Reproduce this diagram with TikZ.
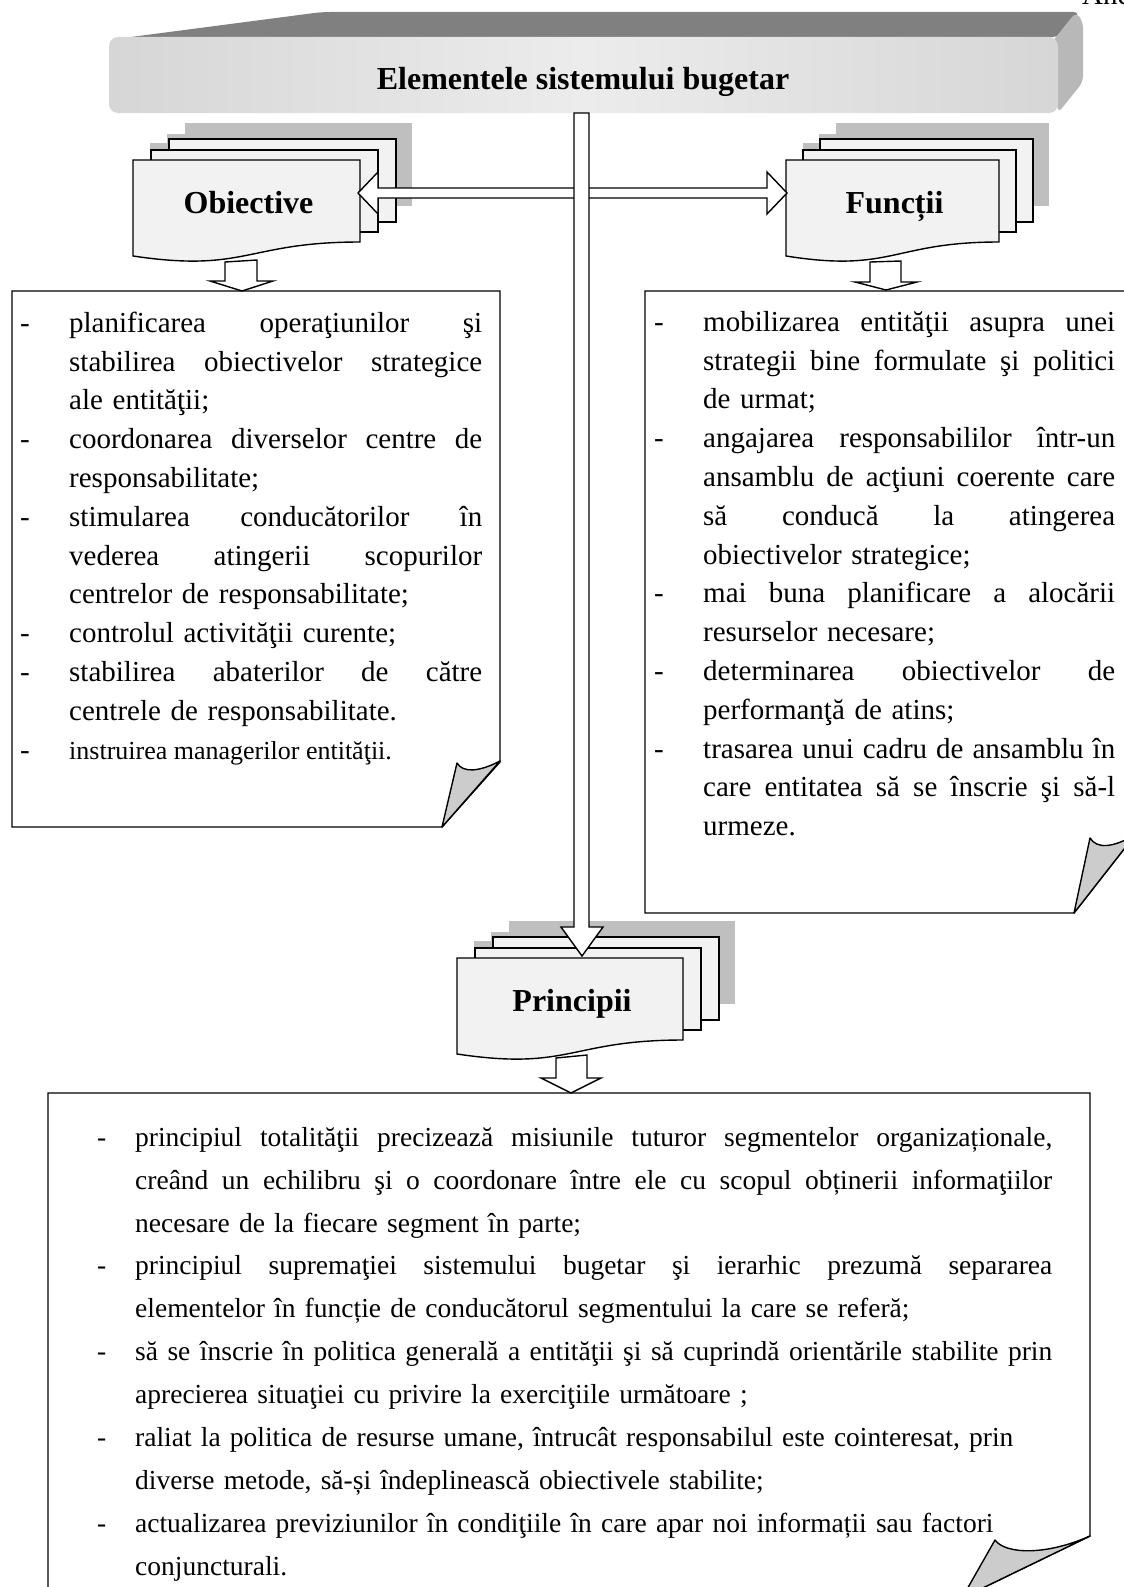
\documentclass[tikz,border=0pt]{standalone}
\usepackage{fontspec}
\setmainfont{Liberation Serif}
\setlength{\parindent}{0pt}

\definecolor{pagegray}{HTML}{F2F2F2}
\definecolor{shadowgray}{HTML}{BFBFBF}
\definecolor{foldgray}{HTML}{CCCCCC}
\definecolor{bannertop}{HTML}{808080}
\definecolor{bannerside}{HTML}{B8B8B8}
\definecolor{bannerface}{HTML}{D6D6D6}
\definecolor{bannerlight}{HTML}{ECECEC}

% list helpers: dash column, indent column, justified line (spaces may stretch)
\newcommand\itemdash[1]{\makebox[#1][l]{-}}
\newcommand\itemskip[1]{\hspace*{#1}}
\newcommand\jline[2]{\makebox[#1][s]{\spaceskip=0pt\xspaceskip=0pt #2}}

% stack of three pages with a shadow; #1 name, #2 x, #3 y, #4 width, #5 page step, #6 label
\newcommand\docstack[6]{%
  \fill[shadowgray] (#2+2*#5+16,#3-37) rectangle ++(#4,83);
  \fill[shadowgray] (#2+#5+16,#3-26) rectangle ++(#4,82);
  \fill[shadowgray] (#2+17,#3-17) rectangle ++(#4,82);
  \draw[pagestyle] (#2+2*#5,#3-21) rectangle ++(#4,83);
  \draw[pagestyle] (#2+#5,#3-10) rectangle ++(#4,82);
  \draw[pagestyle] (#2,#3) -- (#2+#4,#3) -- (#2+#4,#3+82)
     .. controls (#2+0.5*#4,#3+82) and (#2+0.5*#4,#3+113) .. (#2,#3+96) -- cycle;
  \node[heading] (#1) at (#2+0.5*#4+2,#3+53) {#6};
}

\tikzset{
  outline/.style={draw=black, line width=1.4pt, line join=miter},
  pagestyle/.style={outline, fill=pagegray},
  blockarrow/.style={outline, fill=white},
  notebox/.style={outline, fill=white},
  foldstyle/.style={outline, fill=foldgray, line join=round},
  heading/.style={font=\bfseries\fontsize{32}{38}\selectfont, inner sep=0pt, anchor=base},
  listtext/.style={font=\fontsize{29}{38.8}\selectfont, inner sep=0pt, anchor=north west, align=left},
  widelist/.style={font=\fontsize{27.5}{42.9}\selectfont, inner sep=0pt, anchor=north west, align=left}
}

\begin{document}
\begin{tikzpicture}[x=1pt,y=-1pt]
\useasboundingbox (0,0) rectangle (1124,1587);
\clip (0,0) rectangle (1124,1587);
\fill[white] (0,0) rectangle (1124,1587);

% heading of the page, cut by the page edge
\node[anchor=base west, inner sep=0pt, font=\fontsize{29}{30}\selectfont] (annex) at (1082,5) {Anexa};

% ---- three-dimensional title banner ----
\fill[bannertop, rounded corners=8pt] (108,40) -- (322,12) -- (1081,12) -- (1060,37) -- cycle;
\fill[bannerside, rounded corners=6pt] (1052,42) -- (1076,12) -- (1083,22) -- (1083,82) -- (1058,113) -- cycle;
\shade[left color=bannerface, right color=bannerface, middle color=bannerlight, rounded corners=9pt]
  (109,37) rectangle (1058,113);
\node[heading] (title) at (583,89) {Elementele sistemului bugetar};

% ---- note boxes with a turned-up corner ----
\draw[notebox] (12,291) -- (500,291) -- (500,762) -- (442,827) -- (12,827) -- cycle;
\draw[foldstyle] (442,827) -- (457,763) .. controls (463,773) and (479,772) .. (500,761) -- cycle;

\draw[notebox] (645,291) -- (1135,291) -- (1135,835) -- (1074,913) -- (645,913) -- cycle;
\draw[foldstyle] (1074,913) -- (1090,838) .. controls (1097,849) and (1112,848) .. (1135,835) -- cycle;

\draw[notebox] (48,1093) -- (1090,1093) -- (1090,1536) -- (962,1598) -- (48,1598) -- cycle;
\draw[foldstyle] (962,1598) -- (995,1540) .. controls (1005,1554) and (1045,1556) .. (1090,1536) -- cycle;

% ---- page stacks ----
\docstack{obj}{133}{160}{227}{18}{Obiective}
\docstack{fun}{786}{160}{213}{17}{Funcții}
\docstack{pri}{457}{958}{226}{18}{Principii}

% ---- double arrow between the stacks ----
\draw[blockarrow] (358,193) -- (378,172) -- (378,188) -- (767,188) -- (767,172) -- (787,193)
  -- (767,214) -- (767,198) -- (378,198) -- (378,214) -- cycle;

% ---- long arrow from the banner to the principles ----
\draw[blockarrow] (574,113) -- (589,113) -- (589,927) -- (603,927) -- (582,956) -- (561,927)
  -- (574,927) -- cycle;

% ---- short arrows from the stacks to their notes ----
\draw[blockarrow] (225,262) -- (257,260) -- (257,281) -- (273,281) -- (242,291) -- (210,281)
  -- (225,281) -- cycle;
\draw[blockarrow] (870,262) -- (901,261) -- (901,282) -- (917,282) -- (886,290) -- (855,282)
  -- (870,282) -- cycle;
\draw[blockarrow] (556,1058) -- (587,1055) -- (587,1078) -- (601,1078) -- (571,1093) -- (541,1078)
  -- (556,1078) -- cycle;

% ---- list of objectives ----
\node[listtext, text width=462pt] (objlist) at (20,304) {%
\rule{0pt}{28pt}\itemdash{49pt}\jline{413pt}{planificarea operaţiunilor şi}\\
\itemskip{49pt}\jline{413pt}{stabilirea obiectivelor strategice}\\
\itemskip{49pt}ale entităţii;\\
\itemdash{49pt}\jline{413pt}{coordonarea diverselor centre de}\\
\itemskip{49pt}responsabilitate;\\
\itemdash{49pt}\jline{413pt}{stimularea conducătorilor în}\\
\itemskip{49pt}\jline{413pt}{vederea atingerii scopurilor}\\
\itemskip{49pt}centrelor de responsabilitate;\\
\itemdash{49pt}controlul activităţii curente;\\
\itemdash{49pt}\jline{413pt}{stabilirea abaterilor de către}\\
\itemskip{49pt}centrele de responsabilitate.\\
\itemdash{49pt}{\fontsize{26}{37}\selectfont\spaceskip=0pt\xspaceskip=0pt instruirea managerilor entităţii.}};

% ---- list of functions ----
\node[listtext, text width=461pt] (funlist) at (654,303) {%
\rule{0pt}{28pt}\itemdash{49pt}\jline{412pt}{mobilizarea entităţii asupra unei}\\
\itemskip{49pt}\jline{412pt}{strategii bine formulate şi politici}\\
\itemskip{49pt}de urmat;\\
\itemdash{49pt}\jline{412pt}{angajarea responsabililor într-un}\\
\itemskip{49pt}\jline{412pt}{ansamblu de acţiuni coerente care}\\
\itemskip{49pt}\jline{412pt}{să conducă la atingerea}\\
\itemskip{49pt}obiectivelor strategice;\\
\itemdash{49pt}\jline{412pt}{mai buna planificare a alocării}\\
\itemskip{49pt}resurselor necesare;\\
\itemdash{49pt}\jline{412pt}{determinarea obiectivelor de}\\
\itemskip{49pt}performanţă de atins;\\
\itemdash{49pt}\jline{412pt}{trasarea unui cadru de ansamblu în}\\
\itemskip{49pt}\jline{412pt}{care entitatea să se înscrie şi să-l}\\
\itemskip{49pt}urmeze.};

% ---- list of principles ----
\node[widelist, text width=955pt] (prilist) at (97,1118) {%
\rule{0pt}{28pt}\itemdash{38pt}\jline{917pt}{principiul totalităţii precizează misiunile tuturor segmentelor organizaționale,}\\
\itemskip{38pt}\jline{917pt}{creând un echilibru şi o coordonare între ele cu scopul obținerii informaţiilor}\\
\itemskip{38pt}necesare de la fiecare segment în parte;\\
\itemdash{38pt}\jline{917pt}{principiul supremaţiei sistemului bugetar şi ierarhic prezumă separarea}\\
\itemskip{38pt}elementelor în funcție de conducătorul segmentului la care se referă;\\
\itemdash{38pt}\jline{917pt}{să se înscrie în politica generală a entităţii şi să cuprindă orientările stabilite prin}\\
\itemskip{38pt}aprecierea situaţiei cu privire la exerciţiile următoare ;\\
\itemdash{38pt}raliat la politica de resurse umane, întrucât responsabilul este cointeresat, prin\\
\itemskip{38pt}diverse metode, să-și îndeplinească obiectivele stabilite;\\
\itemdash{38pt}actualizarea previziunilor în condiţiile în care apar noi informații sau factori\\
\itemskip{38pt}conjuncturali.};
\end{tikzpicture}
\end{document}
